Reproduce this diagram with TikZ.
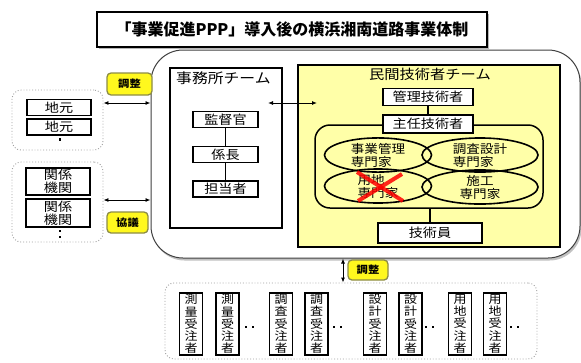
\documentclass[tikz,border=0pt]{standalone}
\usepackage{fontspec}
\setmainfont{Noto Sans CJK JP}[FakeStretch=1.13]
\newfontfamily\titlefont{Noto Sans CJK JP}
\usetikzlibrary{arrows.meta,shadows,shapes.geometric}
\definecolor{paleY}{RGB}{255,255,168}
\definecolor{labY}{RGB}{255,248,30}
\definecolor{labB}{RGB}{140,140,70}
\definecolor{grpB}{RGB}{160,160,160}
\begin{document}
\begin{tikzpicture}[x=1pt,y=-1pt,
  box/.style={draw=black, line width=1.9pt, fill=white, inner sep=0pt, font=\fontsize{12.5}{13}\selectfont, align=center},
  vbox/.style={box, minimum width=23pt, minimum height=62pt, font=\fontsize{11.5}{12.3}\selectfont},
  lab/.style={draw=labB, line width=1.3pt, fill=labY, rounded corners=4pt, inner sep=0pt, font=\bfseries\fontsize{10}{11}\selectfont},
  grp/.style={draw=grpB, dotted, line width=0.9pt, rounded corners=9pt, fill=white},
  ell/.style={draw=black, ellipse, line width=1.6pt, inner sep=0pt, font=\fontsize{12}{13}\selectfont, align=left},
  dbl/.style={{Latex[length=5pt,width=4pt]}-{Latex[length=5pt,width=4pt]}, line width=0.9pt},
  link/.style={line width=1.2pt},
  dotm/.style={fill=black, inner sep=0pt, minimum size=2.6pt},
  hdr/.style={font=\fontsize{14}{15}\selectfont, inner sep=0pt}
]
\useasboundingbox (0,0) rectangle (581,362);
\fill[white] (0,0) rectangle (581,362);

% title
\node[draw=black, line width=1.4pt, fill=white, minimum width=390pt, minimum height=35pt,
      drop shadow={shadow xshift=2pt, shadow yshift=-2pt, fill=gray!70, opacity=0.8},
      font=\titlefont\bfseries\fontsize{16}{18}\selectfont] (title) at (292,29.5) {「事業促進PPP」導入後の横浜湘南道路事業体制};

% big rounded frame
\node[draw=black!75, line width=1pt, fill=white, rounded corners=32pt, minimum width=429pt, minimum height=208pt,
      drop shadow={shadow xshift=1.5pt, shadow yshift=-2.5pt, fill=gray!60, opacity=0.8}] (big) at (365.5,154) {};

% office team
\node[draw=black, line width=1.9pt, fill=white, minimum width=112pt, minimum height=160pt] (office) at (226,148) {};
\node[hdr, anchor=west] (officeT) at (176,78) {事務所チーム};
\node[box, minimum width=65pt, minimum height=16pt] (kan) at (225.5,119.5) {監督官};
\node[box, minimum width=65pt, minimum height=16pt] (kakari) at (225.5,154.5) {係長};
\node[box, minimum width=65pt, minimum height=16pt] (tanto) at (225.5,189) {担当者};
\draw[line width=1.9pt] (kan) -- (kakari);
\draw[line width=1.9pt] (kakari) -- (tanto);

% private engineer team
\node[draw=black, line width=1.9pt, fill=paleY, minimum width=262pt, minimum height=182pt] (minkan) at (429,156) {};
\node[hdr, font=\fontsize{13.5}{15}\selectfont] (minkanT) at (430,74) {民間技術者チーム};
\node[draw=black, line width=1.5pt, rounded corners=15pt, minimum width=228pt, minimum height=83pt] (inner) at (429,166.5) {};
\node[ell, minimum width=107pt, minimum height=32pt] (e1) at (378,155) {事業管理\\専門家};
\node[ell, minimum width=116pt, minimum height=32pt] (e2) at (480,155) {調査設計\\専門家};
\node[ell, minimum width=107pt, minimum height=34pt] (e3) at (378,186) {用地\\専門家};
\node[ell, minimum width=116pt, minimum height=34pt, align=center] (e4) at (480,187) {施工\\専門家};
\node[box, minimum width=90pt, minimum height=17pt] (kanri) at (428,97) {管理技術者};
\node[box, minimum width=90pt, minimum height=18pt] (shunin) at (428,124) {主任技術者};
\node[box, minimum width=104pt, minimum height=20pt] (giin) at (430,233) {技術員};
\draw[link] (kanri) -- (shunin);
\draw[link] (inner.south -| giin.north) -- (giin);
% red cross
\coordinate (x1) at (357,172);
\coordinate (x2) at (403,201);
\coordinate (x3) at (358,201);
\coordinate (x4) at (402,174);
\draw[red, line width=4pt, opacity=0.85] (x1) -- (x2);
\draw[red, line width=4pt, opacity=0.85] (x3) -- (x4);

% arrow office <-> minkan
\coordinate (oa) at (268,103);
\coordinate (ma) at (317,103);
\draw[dbl] (oa) -- (ma);

% left groups
\node[grp, minimum width=91pt, minimum height=60pt] (g1) at (57.5,120) {};
\node[box, minimum width=64pt, minimum height=16pt] (ji1) at (59,107.5) {地元};
\node[box, minimum width=64pt, minimum height=16pt] (ji2) at (59,127) {地元};
\node[dotm] (d1) at (60,139.5) {};
\node[grp, minimum width=91pt, minimum height=80pt] (g2) at (57.5,202) {};
\node[box, minimum width=64pt, minimum height=27pt] (ka1) at (58,181.5) {関係\\機関};
\node[box, minimum width=64pt, minimum height=28pt] (ka2) at (58,213) {関係\\機関};
\node[dotm] (d2) at (60,231) {};
\node[dotm] (d3) at (60,237) {};

\node[lab, minimum width=45pt, minimum height=22pt] (chosei1) at (129.5,84) {調整};
\node[lab, minimum width=41pt, minimum height=21pt] (kyogi) at (127.5,222.5) {協議};
\draw[dbl] (g1.east |- 0,103) -- (big.west |- 0,103);
\draw[dbl] (g2.east |- 0,200) -- (big.west |- 0,200);

% bottom group
\node[grp, minimum width=372pt, minimum height=76pt] (g3) at (351,321) {};
\draw[dbl] (big.south -| 343,0) -- (g3.north -| 343,0);
\node[lab, minimum width=40pt, minimum height=20pt] (chosei2) at (368,270) {調整};

\node[vbox] (b1) at (191,324) {測\\量\\受\\注\\者};
\node[vbox] (b2) at (227.5,324) {測\\量\\受\\注\\者};
\node[dotm] (bd1) at (246,327) {};
\node[dotm] (bd2) at (253,327) {};
\node[vbox] (b3) at (281,324) {調\\査\\受\\注\\者};
\node[vbox] (b4) at (316.5,324) {調\\査\\受\\注\\者};
\node[dotm] (bd3) at (334,327) {};
\node[dotm] (bd4) at (341,327) {};
\node[vbox] (b5) at (375,324) {設\\計\\受\\注\\者};
\node[vbox] (b6) at (410.5,324) {設\\計\\受\\注\\者};
\node[dotm] (bd5) at (426,327) {};
\node[dotm] (bd6) at (433,327) {};
\node[vbox] (b7) at (460,324) {用\\地\\受\\注\\者};
\node[vbox] (b8) at (495,324) {用\\地\\受\\注\\者};
\node[dotm] (bd7) at (511,327) {};
\node[dotm] (bd8) at (518,327) {};
\end{tikzpicture}
\end{document}
